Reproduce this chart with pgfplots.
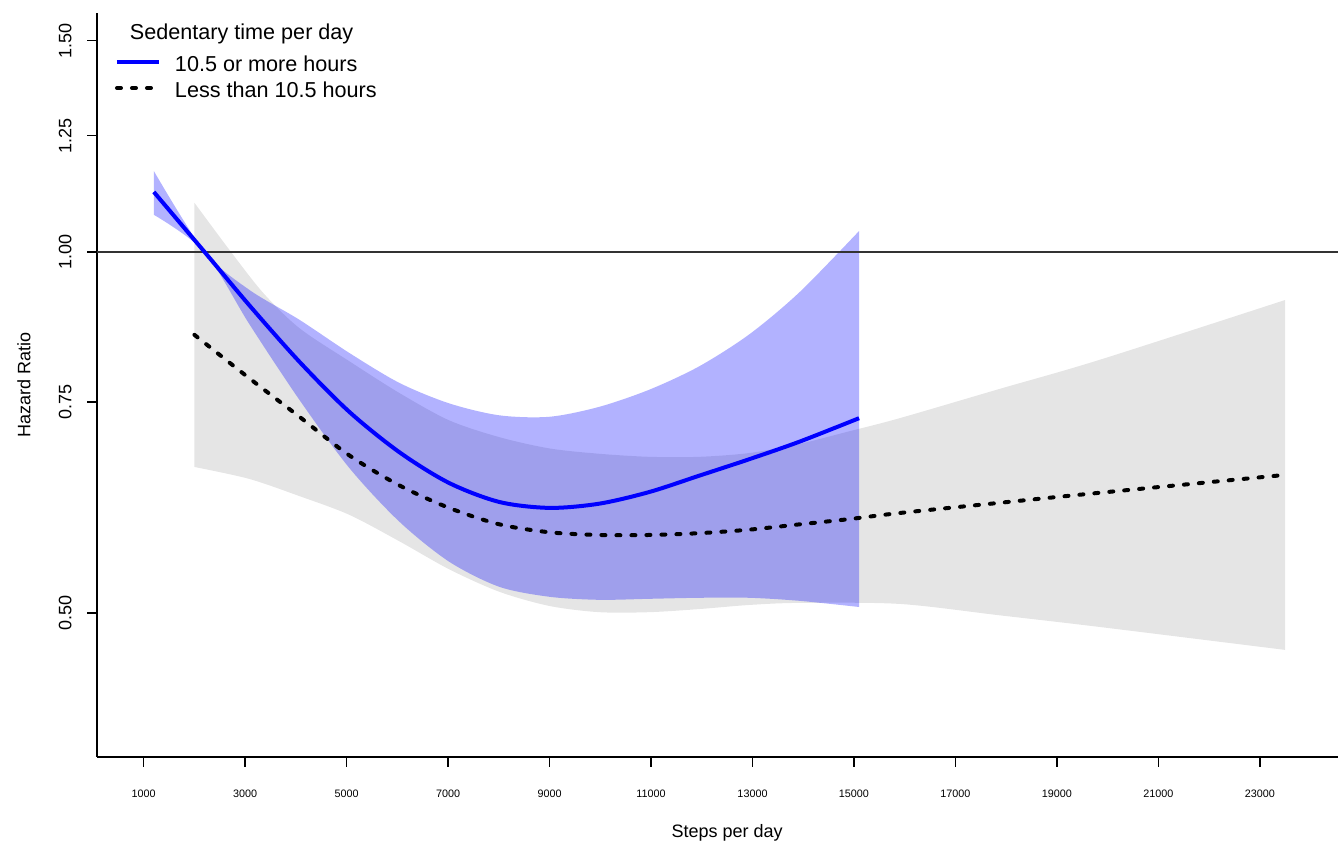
\documentclass[border=0pt]{standalone}
\usepackage{fontspec}
\setmainfont{Liberation Sans}
\usepackage{pgfplots}
\pgfplotsset{compat=1.18}
\usepgfplotslibrary{fillbetween}
\begin{document}
\begin{tikzpicture}
\begin{axis}[
  at={(48.5pt,44pt)}, anchor=south west,
  scale only axis, width=620.5pt, height=372pt,
  xmin=80, xmax=24540, ymode=log, ymin=0.3795, ymax=1.5817,
  axis x line*=bottom, axis y line*=left,
  axis line style={-, line width=0.8pt},
  xtick pos=bottom, ytick pos=left,
  tick align=outside, major tick length=5pt, tick style={black, line width=0.8pt},
  scaled x ticks=false,
  xtick={1000,3000,...,23000},
  xticklabels={1000,3000,5000,7000,9000,11000,13000,15000,17000,19000,21000,23000},
  ytick={0.5,0.75,1,1.25,1.5}, yticklabels={0.50,0.75,1.00,1.25,1.50},
  yminorticks=false, xminorticks=false,
  /pgf/number format/assume math mode=true,
  xticklabel style={yshift=-11.5pt, anchor=north, inner sep=0pt, font=\fontsize{5.4}{6}\selectfont},
  yticklabel style={xshift=-7.5pt, rotate=90, anchor=south, inner sep=0pt, font=\fontsize{9}{11}\selectfont},
  xlabel={Steps per day}, ylabel={Hazard Ratio},
  xlabel style={at={(axis description cs:0.5077,-0.1022)}, anchor=center, font=\fontsize{9}{11}\selectfont},
  ylabel style={at={(axis description cs:-0.0588,0.5)}, anchor=center, font=\fontsize{9}{11}\selectfont},
  legend image code/.code={\draw[#1] (0pt,0pt) -- (21pt,0pt);},
  legend cell align=left,
  legend style={at={(axis description cs:0.0145,0.9906)}, anchor=north west, draw=none, fill=none,
    inner sep=0pt, outer sep=0pt, column sep=7pt, row sep=3pt,
    font=\fontsize{10.8}{13}\selectfont, nodes={inner sep=0pt, text height=10pt, text depth=0pt}},
]
% Less than 10.5 hours: confidence band
\addplot[draw=none, forget plot, name path=gu, smooth] coordinates {
(2000,1.099) (2690,1.004) (3360,0.924) (4070,0.864) (5050,0.811) (6040,0.763) (7020,0.724) (8010,0.701) (9000,0.686) (9980,0.679) (10970,0.675) (11950,0.675) (12940,0.680) (13930,0.692) (14910,0.709) (15900,0.727) (17870,0.769) (19840,0.813) (23500,0.912)};
\addplot[draw=none, forget plot, name path=gl, smooth] coordinates {
(2000,0.662) (3080,0.647) (4070,0.626) (5050,0.604) (6040,0.574) (7020,0.544) (8010,0.521) (9000,0.507) (9980,0.501) (10970,0.501) (11950,0.504) (12940,0.508) (13930,0.510) (15900,0.509) (17870,0.498) (19840,0.487) (23500,0.466)};
\addplot[fill=black!10, draw=none, forget plot] fill between[of=gu and gl];
% reference line
\addplot[black!80, line width=0.8pt, forget plot] coordinates {(80,1) (24540,1)};
% Less than 10.5 hours: estimate
\addplot[black, line width=2pt, dash pattern=on 2pt off 5.5pt, line cap=round, smooth, forget plot] coordinates {
(2000,0.853) (3080,0.785) (4070,0.729) (5050,0.677) (6040,0.639) (7020,0.612) (8010,0.593) (9000,0.584) (9980,0.581) (10970,0.581) (11950,0.583) (12940,0.587) (13930,0.593) (14910,0.599) (15900,0.606) (17870,0.618) (19840,0.630) (23500,0.652)};
% 10.5 or more hours: confidence band
\addplot[draw=none, forget plot, name path=bu, smooth] coordinates {
(1200,1.168) (2200,1.000) (3080,0.930) (4070,0.878) (5050,0.824) (6040,0.778) (7020,0.748) (8010,0.731) (9000,0.729) (9980,0.743) (10970,0.768) (11950,0.803) (12940,0.854) (13930,0.926) (15100,1.041)};
\addplot[draw=none, forget plot, name path=bl, smooth] coordinates {
(1200,1.074) (2200,1.000) (3080,0.871) (4070,0.753) (5050,0.661) (6040,0.596) (7020,0.552) (8010,0.526) (9000,0.516) (9980,0.513) (10970,0.514) (11950,0.515) (12940,0.515) (13930,0.512) (15100,0.506)};
\addplot[fill=blue, fill opacity=0.3, draw=none, forget plot] fill between[of=bu and bl];
% 10.5 or more hours: estimate
\addplot[blue, line width=2pt, smooth, forget plot] coordinates {
(1200,1.122) (2200,1.000) (3080,0.903) (4070,0.810) (5050,0.736) (6040,0.681) (7020,0.642) (8010,0.619) (9000,0.612) (9980,0.617) (10970,0.631) (11950,0.651) (12940,0.672) (13930,0.695) (15100,0.727)};
% legend
\addlegendimage{empty legend}
\addlegendentry[text depth=3pt]{\hspace*{-22.5pt}Sedentary time per day}
\addlegendimage{blue, line width=2pt}
\addlegendentry{10.5 or more hours}
\addlegendimage{black, line width=2pt, dash pattern=on 2pt off 5.5pt, line cap=round}
\addlegendentry{Less than 10.5 hours}
\end{axis}
\pgfresetboundingbox
\path[use as bounding box] (0,0) rectangle (669pt,422.5pt);
\end{tikzpicture}
\end{document}
